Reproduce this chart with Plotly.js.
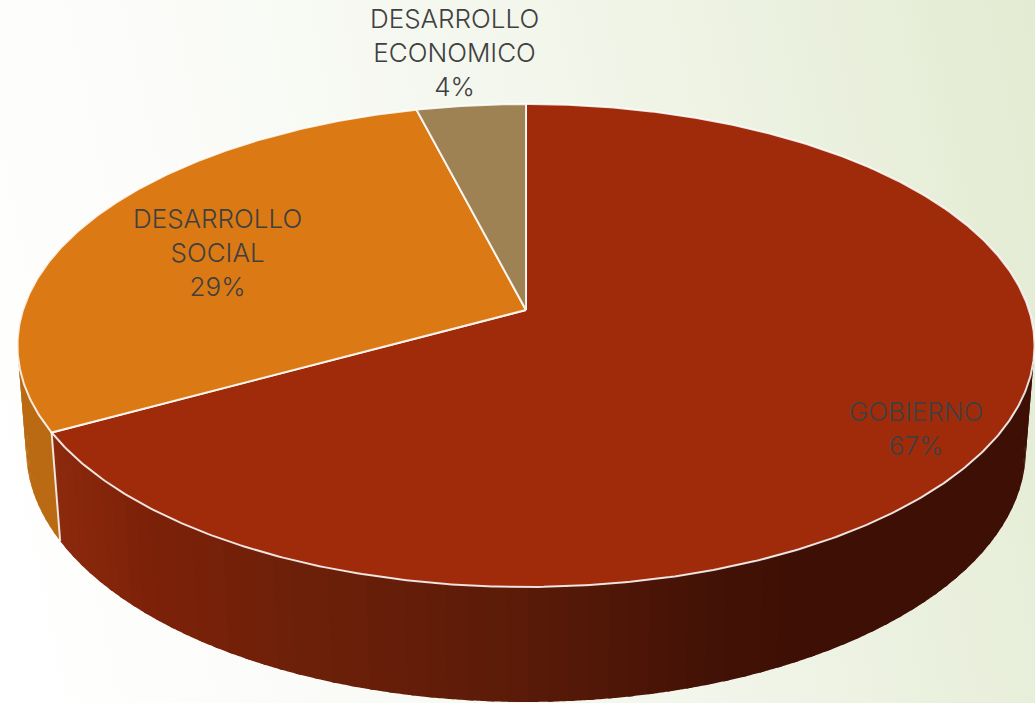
<!DOCTYPE html>
<html>
<head>
<meta charset="utf-8">
<script src="https://cdn.plot.ly/plotly-3.0.1.min.js"></script>
<style>
html,body{margin:0;padding:0;width:1035px;height:703px;overflow:hidden;
background:linear-gradient(78deg,#ffffff 0%,#fbfcf9 25%,#f1f5e9 62%,#e3ebd2 100%);}
#chart{width:1035px;height:703px;}
</style>
</head>
<body>
<div id="chart"></div>
<script>
// ---- data ----
const categories = ["GOBIERNO", "DESARROLLO<br>SOCIAL", "DESARROLLO<br>ECONOMICO"];
const values = [67, 29, 4];

// ---- styles / layout ----
const topColors = ["#a02b0b", "#db7a14", "#9e8253"];
const orangeWall = "#b96a12";
const wallStopsX = [50, 150, 300, 530, 700, 800, 1035];
const wallStopsRGB = [[140,42,13],[125,33,9],[110,32,9],[90,27,8],[69,18,6],[62,16,5],[62,16,5]];
const labelX = [916, 217, 454];
const labelY = [428, 252, 52];
const cx = 526, cy = 310, k = 503, a = -190.7, c = 0.147, g = 0.017, f = 110;

const topPt = t => { const r = t*Math.PI/180, Y = Math.cos(r), w = 1+c*Y;
  return [cx + k*Math.sin(r)/w, (a*Y+cy)/w]; };
const botPt = t => { const r = t*Math.PI/180, Y = Math.cos(r), w = 1+c*Y+g;
  return [cx + k*Math.sin(r)/w, (a*Y+cy+f)/w]; };
const wallColor = x => {
  let i = 0; while (i < wallStopsX.length-2 && x > wallStopsX[i+1]) i++;
  const u = Math.max(0, Math.min(1, (x-wallStopsX[i])/(wallStopsX[i+1]-wallStopsX[i])));
  const m = wallStopsRGB[i].map((v,j)=>Math.round(v+(wallStopsRGB[i+1][j]-v)*u));
  return `rgb(${m.join(",")})`;
};
const range = (t0,t1,st) => { const o=[]; const n=Math.max(1,Math.ceil((t1-t0)/st));
  for(let i=0;i<=n;i++) o.push(t0+(t1-t0)*i/n); return o; };

const total = values.reduce((p,q)=>p+q,0);
let acc = 0;
const slices = values.map(v => { const s = acc*360/total; acc += v; return [s, acc*360/total]; });

const traces = [];
const poly = (pts, fill, line) => traces.push({
  type:"scatter", x:pts.map(p=>p[0]), y:pts.map(p=>p[1]), hoverinfo:"skip", showlegend:false,
  mode: line ? "lines" : "none", fill: fill ? "toself" : "none", fillcolor: fill||undefined,
  line: line ? {color:line, width:2} : {width:0}
});
const band = (t0,t1,col) => {
  const ts = range(t0,t1,0.25);
  poly(ts.map(topPt).concat(ts.slice().reverse().map(botPt)), col);
};

// orange wall: short strips so the silhouette follows the outer tangent
for (let t = slices[1][0]; t < 300; t += 1.5) band(t, t+2, orangeWall);
// red wall, banded gradient along screen x
const st = 2;
for (let t = slices[0][1]-st; t > 50; t -= st) {
  const t0 = Math.max(t, 0), t1 = Math.min(t+st+0.6, slices[0][1]);
  band(t0, t1, wallColor(topPt(t+st/2)[0]));
}
// divider on the wall
poly([topPt(slices[0][1]), botPt(slices[0][1])], null, "rgba(255,255,255,0.85)");
// top faces
slices.forEach((s,i) => {
  const pts = [[cx,cy]].concat(range(s[0],s[1],0.5).map(topPt)); pts.push([cx,cy]);
  poly(pts, topColors[i], "rgba(255,255,255,0.85)");
});

const annotations = categories.map((n,i)=>({
  x:labelX[i], y:labelY[i], xref:"x", yref:"y", showarrow:false, align:"center",
  text:`${n}<br>${values[i]}%`
}));

Plotly.newPlot("chart", traces, {
  width:1035, height:703, margin:{l:0,r:0,t:0,b:0,pad:0},
  paper_bgcolor:"rgba(0,0,0,0)", plot_bgcolor:"rgba(0,0,0,0)", showlegend:false,
  font:{family:"Inter, Lato, sans-serif", size:26, color:"#404040", weight:300},
  xaxis:{range:[0,1035], visible:false, fixedrange:true},
  yaxis:{range:[703,0], visible:false, fixedrange:true},
  annotations
}, {staticPlot:true, displayModeBar:false});
</script>
</body>
</html>
